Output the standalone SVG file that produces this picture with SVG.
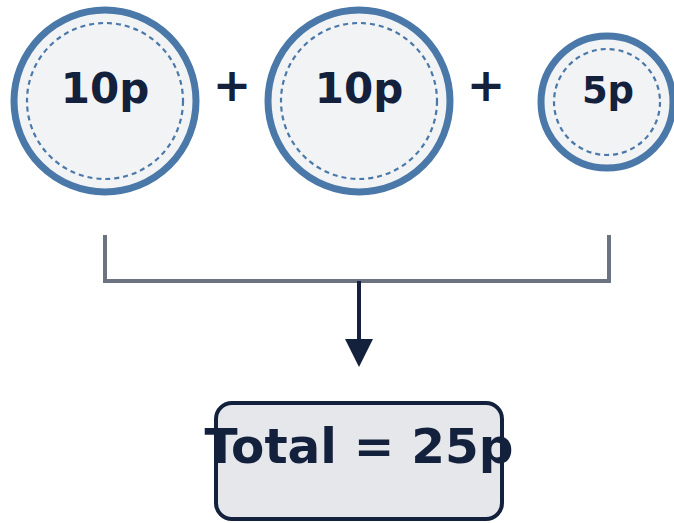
<svg xmlns="http://www.w3.org/2000/svg" width="674" height="523" viewBox="0 0 674 523">
  <style>
    .coin-rim { fill: #f1f3f5; stroke: #4a78a8; stroke-width: 7; }
    .coin-ring { fill: none; stroke: #4a78a8; stroke-width: 2.2; stroke-dasharray: 5 4; }
    .label { font-family: "DejaVu Sans", "Liberation Sans", sans-serif; font-weight: bold; fill: #14213d; text-anchor: middle; }
    .bracket { fill: none; stroke: #6b7280; stroke-width: 4; }
    .flow { fill: none; stroke: #14213d; stroke-width: 4; }
  </style>
  <defs>
    <marker id="arrow" markerUnits="userSpaceOnUse" markerWidth="30" markerHeight="30" refX="1" refY="14" orient="auto">
      <path d="M0,0 L28,14 L0,28 Z" fill="#14213d"/>
    </marker>
  </defs>
  <rect width="674" height="523" fill="#ffffff"/>

  <g id="coin-10p-a">
    <circle class="coin-rim" cx="105" cy="101" r="91"/>
    <circle class="coin-ring" cx="105" cy="101" r="78"/>
    <text class="label" x="105" y="103" font-size="42">10p</text>
  </g>
  <g id="plus-1">
    <text class="label" x="232" y="101" font-size="46">+</text>
  </g>
  <g id="coin-10p-b">
    <circle class="coin-rim" cx="359" cy="101" r="91"/>
    <circle class="coin-ring" cx="359" cy="101" r="78"/>
    <text class="label" x="359" y="103" font-size="42">10p</text>
  </g>
  <g id="plus-2">
    <text class="label" x="486" y="101" font-size="46">+</text>
  </g>
  <g id="coin-5p">
    <circle class="coin-rim" cx="607" cy="102" r="66"/>
    <circle class="coin-ring" cx="607" cy="102" r="53"/>
    <text class="label" x="608" y="103" font-size="37">5p</text>
  </g>

  <g id="connectors">
    <path class="bracket" d="M105,235 V281 H609 V235"/>
    <path class="flow" d="M359,281 V340" marker-end="url(#arrow)"/>
  </g>

  <g id="total">
    <rect x="216" y="403" width="286" height="116" rx="16" ry="16" fill="#e5e7eb" stroke="#14213d" stroke-width="4"/>
    <text class="label" x="359" y="463" font-size="48.5">Total = 25p</text>
  </g>
</svg>
